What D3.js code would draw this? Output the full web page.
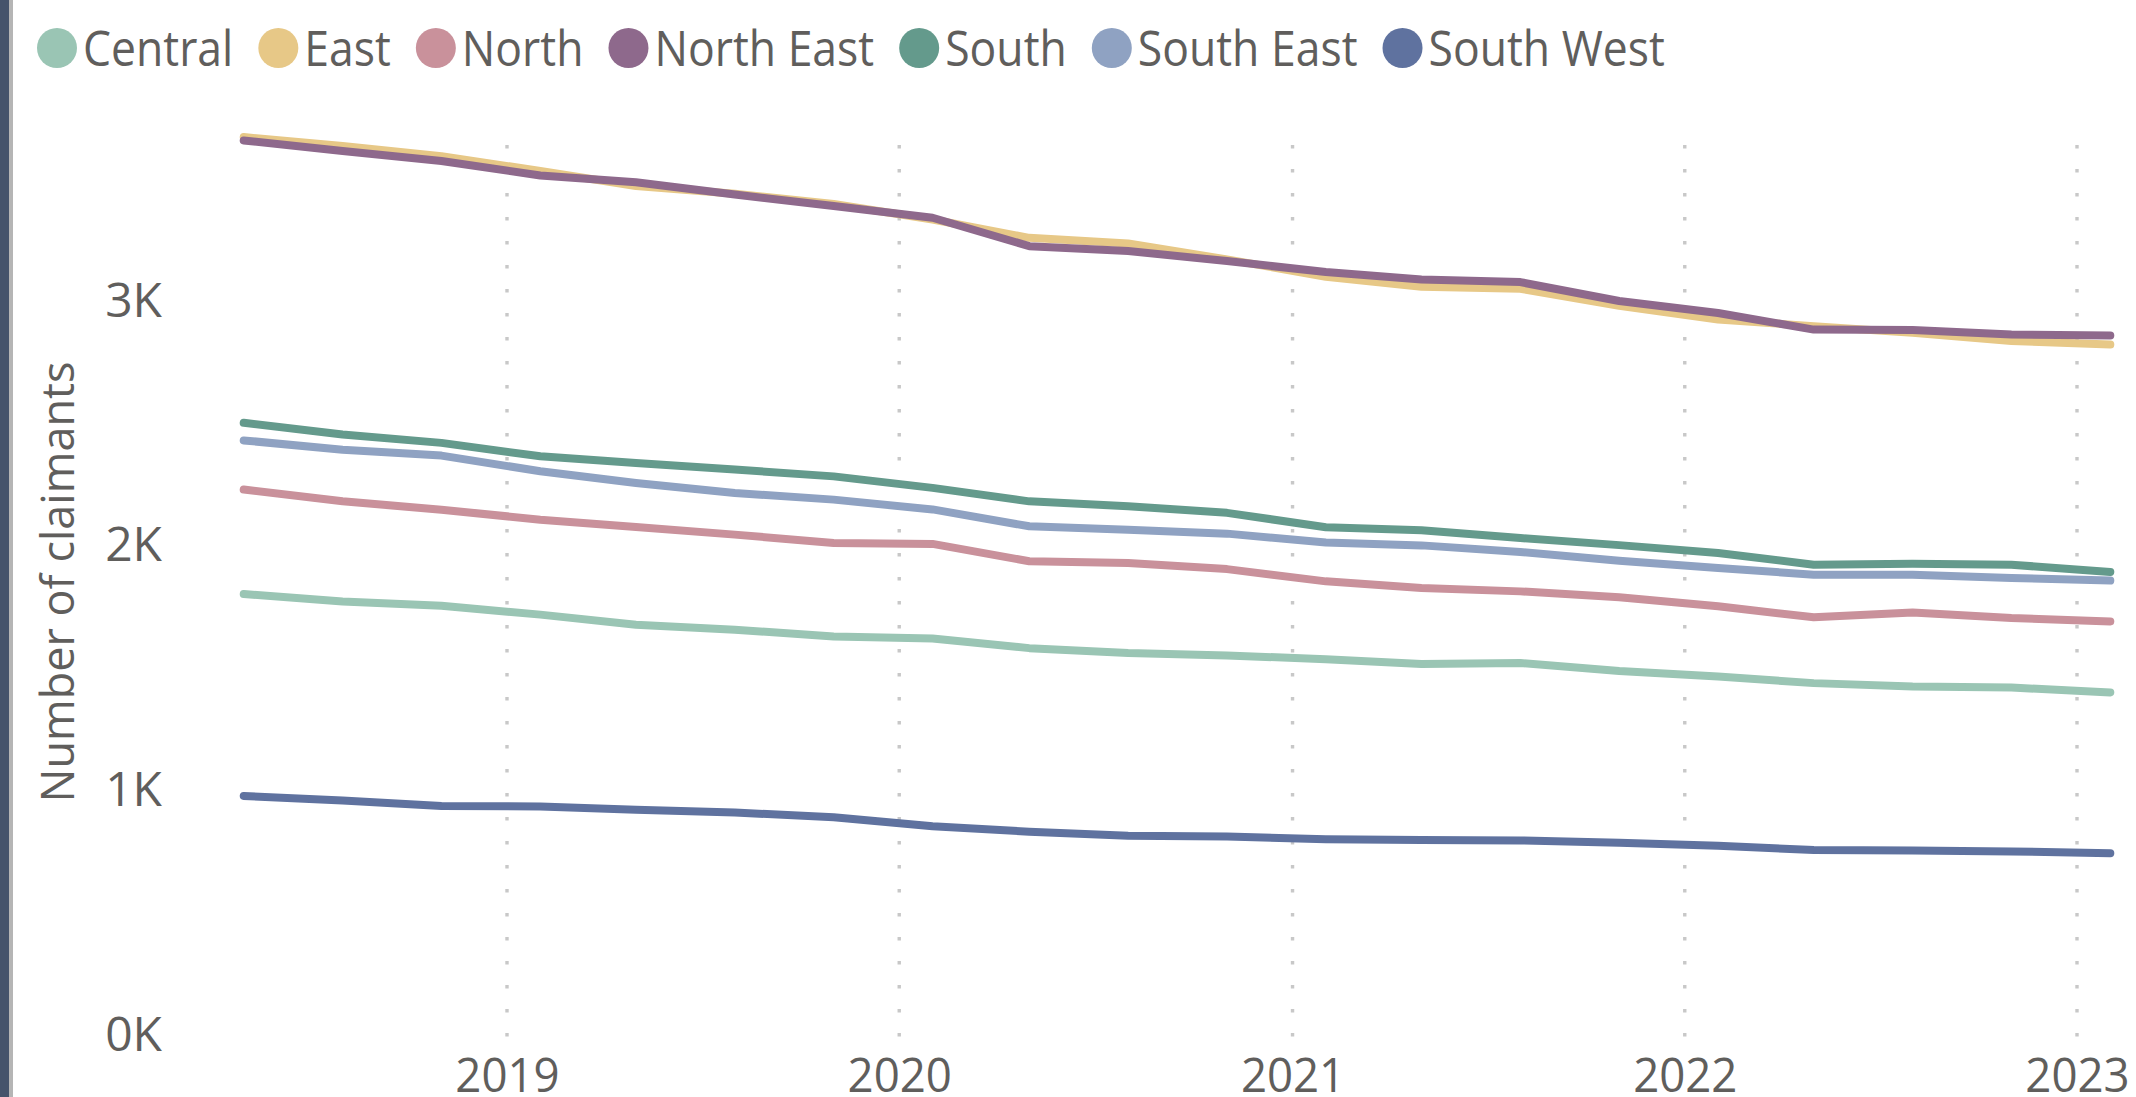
<!DOCTYPE html>
<html>
<head>
<meta charset="utf-8">
<script src="https://cdn.jsdelivr.net/npm/d3@7"></script>
<style>
  html, body { margin: 0; padding: 0; background: #ffffff; }
  svg { display: block; }
  text { font-family: "Open Sans", "Noto Sans", sans-serif; fill: #605E5C; }
</style>
</head>
<body>
<svg id="chart" width="2136" height="1097"></svg>
<script>
// ---- data ----
const periods = ["2018-05","2018-08","2018-11","2019-02","2019-05","2019-08","2019-11","2020-02","2020-05","2020-08",
                 "2020-11","2021-02","2021-05","2021-08","2021-11","2022-02","2022-05","2022-08","2022-11","2023-02"];
const regions = ["Central","East","North","North East","South","South East","South West"];
const central   = [1794,1764,1746,1710,1669,1648,1621,1612,1573,1553,1543,1528,1508,1512,1480,1457,1430,1416,1412,1392];
const east      = [3662,3625,3584,3523,3462,3430,3388,3325,3250,3227,3162,3091,3050,3042,2972,2916,2889,2862,2828,2814];
const north     = [2221,2173,2139,2098,2068,2037,2003,1999,1928,1921,1896,1846,1819,1805,1781,1744,1699,1719,1696,1682];
const northEast = [3648,3605,3564,3505,3477,3427,3380,3332,3216,3196,3155,3110,3080,3069,2992,2943,2875,2873,2855,2851];
const south     = [2494,2446,2412,2357,2330,2303,2275,2228,2173,2153,2126,2067,2055,2023,1994,1962,1914,1918,1914,1884];
const southEast = [2422,2384,2360,2296,2248,2207,2180,2140,2071,2057,2041,2005,1993,1966,1930,1901,1873,1873,1860,1849];
const southWest = [969,950,928,926,912,901,882,845,823,806,803,792,789,787,778,765,748,746,742,735];
const seriesValues = [central, east, north, northEast, south, southEast, southWest];
const colors = ["#9AC5B4","#E7C887","#C9919B","#8E698C","#649A8C","#8FA2C2","#5F729F"];
const yTickValues = [0, 1000, 2000, 3000];
const xTickYears = [2019, 2020, 2021, 2022, 2023];
const yTitle = "Number of claimants";

// ---- layout ----
const svg = d3.select("#chart");
const parse = d3.timeParse("%Y-%m");
const dates = periods.map(parse);

const x = d3.scaleTime()
  .domain([new Date(2019,0,1), new Date(2023,0,1)])
  .range([507, 2077]);
const y = d3.scaleLinear().domain([0, 3000]).range([1033, 299]);

function squeeze(sel, k) {
  sel.each(function() {
    const w = this.getComputedTextLength();
    d3.select(this).attr("textLength", w * k).attr("lengthAdjust", "spacingAndGlyphs");
  });
}

// left frame strips
svg.append("rect").attr("x",0).attr("y",0).attr("width",9).attr("height",1097).attr("fill","#45536B");
svg.append("rect").attr("x",9).attr("y",0).attr("width",4).attr("height",1097).attr("fill","#B5B5B5");

// vertical dotted gridlines
const xTicks = xTickYears.map(yr => new Date(yr,0,1));
svg.append("g").selectAll("line").data(xTicks).join("line")
  .attr("x1", d => x(d)).attr("x2", d => x(d))
  .attr("y1", 145).attr("y2", 1037)
  .attr("stroke", "#C8C8C8").attr("stroke-width", 3.4)
  .attr("stroke-dasharray", "3.4 20.6");

// x axis labels
const xAxis = d3.axisBottom(x).tickValues(xTicks).tickFormat(d3.timeFormat("%Y")).tickSize(0);
const gx = svg.append("g").attr("transform","translate(0,1058)").call(xAxis);
gx.select(".domain").remove();
gx.selectAll("text").attr("font-size",48).attr("dy",0).attr("y",34)
  .style("font-family",'"Open Sans","Noto Sans",sans-serif').attr("fill","#605E5C")
  .call(squeeze, 0.95);

// y axis labels
const yAxis = d3.axisLeft(y).tickValues(yTickValues).tickFormat(d => (d/1000) + "K").tickSize(0);
const gy = svg.append("g").attr("transform","translate(162,0)").call(yAxis);
gy.select(".domain").remove();
gy.selectAll("text").attr("font-size",48).attr("x",0).attr("dy","0.36em")
  .style("font-family",'"Open Sans","Noto Sans",sans-serif').attr("fill","#605E5C");

// y title
svg.append("text")
  .attr("transform","translate(74,582) rotate(-90)")
  .attr("text-anchor","middle")
  .attr("font-size",45)
  .text(yTitle);

// lines
const line = d3.line().x((d,i) => x(dates[i])).y(d => y(d));
svg.append("g").selectAll("path").data(seriesValues).join("path")
  .attr("d", d => line(d))
  .attr("fill","none")
  .attr("stroke", (d,i) => colors[i])
  .attr("stroke-width", 8)
  .attr("stroke-linecap","round")
  .attr("stroke-linejoin","round");

// legend
const legend = svg.append("g");
let cx = 57;
regions.forEach((r,i) => {
  legend.append("circle").attr("cx",cx).attr("cy",48).attr("r",20).attr("fill",colors[i]);
  const t = legend.append("text").attr("x",cx+26).attr("y",66).attr("font-size",50).text(r);
  const w = t.node().getComputedTextLength() * 0.89;
  t.attr("textLength", w).attr("lengthAdjust", "spacingAndGlyphs");
  cx = cx + 26 + w + 45;
});
</script>
</body>
</html>
